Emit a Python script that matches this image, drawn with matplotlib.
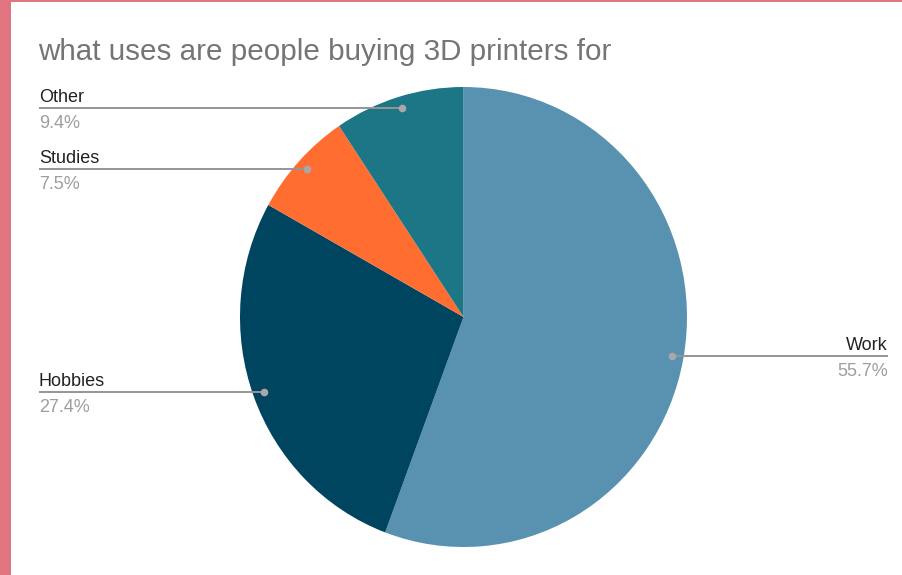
import numpy as np
import matplotlib
matplotlib.use("Agg")
import matplotlib.pyplot as plt
from matplotlib.patches import Rectangle

# ---- data ----
categories = ["Work", "Hobbies", "Studies", "Other"]
shares = [55.7, 27.4, 7.5, 9.4]
colors = ["#5892b0", "#00455f", "#ff6d31", "#1c7685"]
title = "what uses are people buying 3D printers for"

# ---- layout (pixels) ----
W, H = 902, 575
pie_left, pie_top, pie_right, pie_bottom = 240, 87, 687, 547
left_x, right_x = 39, 888
dot_frac = 0.95

plt.rcParams['font.family'] = ['Liberation Sans', 'DejaVu Sans']
fig = plt.figure(figsize=(W / 100, H / 100), dpi=100)
fig.patch.set_facecolor("white")

# pie axes
axp = fig.add_axes([pie_left / W, (H - pie_bottom) / H,
                    (pie_right - pie_left) / W, (pie_bottom - pie_top) / H])
wedges, _ = axp.pie(shares, colors=colors, startangle=90, counterclock=False,
                    radius=1, wedgeprops=dict(linewidth=0))
axp.set_aspect('auto')
axp.set_xlim(-1, 1)
axp.set_ylim(-1, 1)
axp.axis('off')

# overlay axes in pixel coordinates
ax = fig.add_axes([0, 0, 1, 1])
ax.set_xlim(0, W)
ax.set_ylim(H, 0)
ax.axis('off')
ax.patch.set_alpha(0)

cx = (pie_left + pie_right) / 2
cy = (pie_top + pie_bottom) / 2
rx = (pie_right - pie_left) / 2
ry = (pie_bottom - pie_top) / 2

line_col = "#959595"
for w, name, val in zip(wedges, categories, shares):
    mid = np.deg2rad((w.theta1 + w.theta2) / 2)
    dx = cx + rx * dot_frac * np.cos(mid)
    dy = cy - ry * dot_frac * np.sin(mid)
    if np.cos(mid) >= 0:
        ex, ha = right_x, 'right'
    else:
        ex, ha = left_x, 'left'
    ax.plot([dx, ex], [dy, dy], color=line_col, lw=1.4, solid_capstyle='butt')
    ax.plot(dx, dy, 'o', color="#a8a8a8", ms=5.5, mec='none')
    ax.text(ex, dy - 6, name, ha=ha, va='baseline', fontsize=13, color="#222222")
    ax.text(ex, dy + 20, f"{val:.1f}%", ha=ha, va='baseline', fontsize=13, color="#9e9e9e")

ax.text(left_x - 1, 60, title, ha='left', va='baseline', fontsize=21.3, color="#757575")

# pink frame
fig.patches.append(Rectangle((0, 0), 11 / W, 1, transform=fig.transFigure,
                             facecolor="#e07480", edgecolor='none', zorder=10))
fig.patches.append(Rectangle((0, 1 - 2 / H), 1, 2 / H, transform=fig.transFigure,
                             facecolor="#e07480", edgecolor='none', zorder=10))

fig.savefig("out.png", dpi=100, facecolor="white")
